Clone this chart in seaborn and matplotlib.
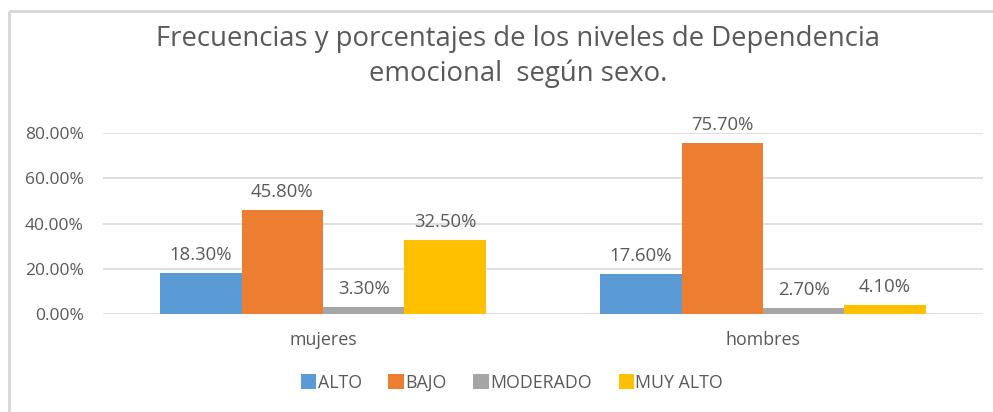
import matplotlib
matplotlib.use("Agg")
import matplotlib.pyplot as plt
import seaborn as sns
import pandas as pd
from matplotlib.lines import Line2D
from matplotlib.patches import Patch

categories = ["mujeres", "hombres"]
levels = ["ALTO", "BAJO", "MODERADO", "MUY ALTO"]
alto = [0.183, 0.176]
bajo = [0.458, 0.757]
moderado = [0.033, 0.027]
muy_alto = [0.325, 0.041]
colors = ["#5B9BD5", "#ED7D31", "#A5A5A5", "#FFC000"]
title = "Frecuencias y porcentajes de los niveles de Dependencia\nemocional  según sexo."
yticks = [0.0, 0.2, 0.4, 0.6, 0.8]

rows = []
for lvl, vals in zip(levels, [alto, bajo, moderado, muy_alto]):
    for c, v in zip(categories, vals):
        rows.append({"sexo": c, "nivel": lvl, "valor": v})
df = pd.DataFrame(rows)

sns.set_theme(style="white")
plt.rcParams["font.family"] = ["Open Sans", "DejaVu Sans"]
TXT = "#595959"

W, H = 993, 412
fig = plt.figure(figsize=(W / 100, H / 100), dpi=100)
fig.patch.set_facecolor("white")

# chart border (top and left visible)
fig.add_artist(Line2D([8.5 / W, 1.01], [1 - 11 / H, 1 - 11 / H], color="#D9D9D9",
                      lw=2.2, solid_capstyle="butt"))
fig.add_artist(Line2D([8.5 / W, 8.5 / W], [-0.01, 1 - 11 / H], color="#D9D9D9",
                      lw=2.2, solid_capstyle="butt"))

left, right, top, bottom = 103, 983, 133, 314
ax = fig.add_axes([left / W, 1 - bottom / H, (right - left) / W, (bottom - top) / H])

sns.barplot(data=df, x="sexo", y="valor", hue="nivel", order=categories,
            hue_order=levels, palette=colors, width=0.74, gap=0,
            saturation=1, ax=ax, legend=False, zorder=3, linewidth=0)

ax.set_ylim(0, 0.8)
ax.set_yticks(yticks)
ax.set_yticklabels([f"{t*100:.2f}%" for t in yticks])
ax.yaxis.grid(True, color="#D9D9D9", lw=1.2, zorder=0)
ax.set_axisbelow(True)
for s in ax.spines.values():
    s.set_visible(False)
ax.set_xlabel("")
ax.set_ylabel("")
ax.tick_params(axis="y", length=0, pad=14, labelsize=12.5, labelcolor=TXT)
ax.tick_params(axis="x", length=0, pad=12, labelsize=12.9, labelcolor=TXT)

for cont in ax.containers:
    for bar in cont:
        h = bar.get_height()
        ax.annotate(f"{h*100:.2f}%", (bar.get_x() + bar.get_width() / 2, h),
                    xytext=(0, 6.5), textcoords="offset points", ha="center",
                    va="bottom", fontsize=13.3, color=TXT, annotation_clip=False)

fig.text(518 / W, 1 - 56.5 / H, title, ha="center", va="center", fontsize=19.8,
         color=TXT, linespacing=1.33)

handles = [Patch(facecolor=c, edgecolor="none") for c in colors]
fig.legend(handles, levels, loc="center", bbox_to_anchor=(512 / W, 1 - 383 / H),
           ncol=4, frameon=False, fontsize=12.8, labelcolor=TXT, handlelength=0.85,
           handleheight=0.9, handletextpad=0.1, columnspacing=1.5)

fig.savefig("out.png", dpi=100, facecolor="white")
